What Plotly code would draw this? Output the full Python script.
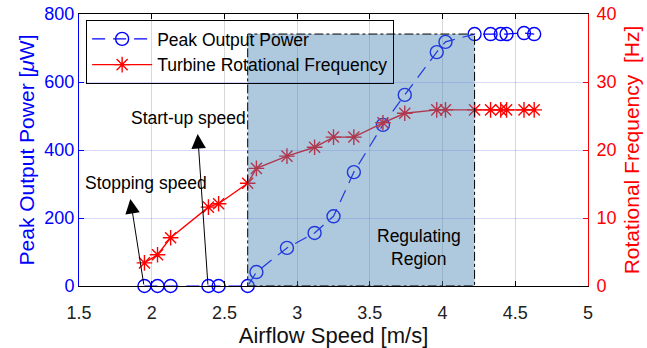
import plotly.graph_objects as go

# Data
airflow = [1.95, 2.04, 2.13, 2.39, 2.46, 2.66, 2.72, 2.93, 3.12, 3.25, 3.39,
           3.59, 3.74, 3.96, 4.02, 4.22, 4.33, 4.40, 4.44, 4.56, 4.63]
power_uW = [0, 0, 0, 0, 0, 0, 41, 112, 156, 205, 335,
            474, 562, 688, 718, 741, 741, 741, 741, 744, 741]
freq_Hz = [3.4, 4.6, 7.1, 11.6, 12.1, 15.1, 17.3, 19.1, 20.4, 21.9, 21.9,
           24.0, 25.4, 25.9, 25.9, 25.9, 25.9, 25.9, 25.9, 25.9, 25.9]
x_ticks = [1.5, 2, 2.5, 3, 3.5, 4, 4.5, 5]
region = dict(x0=2.66, x1=4.22, y0=0, y1=741)

FONT = "Liberation Sans, Arial, sans-serif"

fig = go.Figure()
fig.add_trace(go.Scatter(
    x=airflow, y=power_uW, name="Peak Output Power", mode="lines+markers",
    line=dict(color="#0000ff", width=1.2, dash="13px,8px"),
    marker=dict(symbol="circle-open", size=13, color="#0000ff", line=dict(width=1.4)),
    cliponaxis=False, yaxis="y"))
fig.add_trace(go.Scatter(
    x=airflow, y=freq_Hz, name="Turbine Rotational Frequency", mode="lines+markers",
    line=dict(color="#ff0000", width=1.4),
    marker=dict(symbol="asterisk-open", size=13, color="#ff0000", line=dict(width=1.4, color="#ff0000")),
    cliponaxis=False, yaxis="y2"))

fig.add_shape(type="rect", xref="x", yref="y", layer="above",
              x0=region["x0"], x1=region["x1"], y0=region["y0"], y1=region["y1"],
              fillcolor="rgba(70,130,180,0.44)",
              line=dict(color="black", width=1, dash="dashdot"))

# arrows
fig.add_annotation(x=2.316, y=447, ax=2.387, ay=0, xref="x", yref="y", axref="x", ayref="y",
                   text="", showarrow=True, arrowhead=2, arrowsize=2.9, arrowwidth=1, arrowcolor="black",
                   standoff=0, startstandoff=0)
fig.add_annotation(x=1.853, y=256, ax=1.947, ay=0, xref="x", yref="y", axref="x", ayref="y",
                   text="", showarrow=True, arrowhead=2, arrowsize=2.9, arrowwidth=1, arrowcolor="black",
                   standoff=0, startstandoff=0)
fig.add_annotation(x=2.256, y=494, xref="x", yref="y", text="Start-up speed", showarrow=False,
                   font=dict(family=FONT, size=17.5, color="black"))
fig.add_annotation(x=1.961, y=303, xref="x", yref="y", text="Stopping speed", showarrow=False,
                   font=dict(family=FONT, size=17.5, color="black"))
fig.add_annotation(x=3.835, y=112, xref="x", yref="y", text="Regulating<br>Region", showarrow=False,
                   font=dict(family=FONT, size=17.5, color="black"))

fig.update_layout(
    width=647, height=348,
    margin=dict(l=79, r=59, t=14, b=62),
    paper_bgcolor="white", plot_bgcolor="white",
    font=dict(family=FONT, size=17, color="black"),
    showlegend=True,
    legend=dict(x=0.014, y=0.978, xanchor="left", yanchor="top",
                bgcolor="rgba(255,255,255,0)", bordercolor="black", borderwidth=1,
                font=dict(family=FONT, size=17.5, color="black"),
                itemwidth=60, tracegroupgap=0),
    xaxis=dict(range=[1.5, 5], tickvals=x_ticks, ticktext=[f"{v:g}" for v in x_ticks],
               showgrid=True, gridcolor="#d8d8d8", gridwidth=1,
               showline=True, linecolor="black", linewidth=1, mirror="ticks",
               ticks="inside", ticklen=5, tickcolor="black", ticklabelstandoff=10,
               tickfont=dict(size=18, color="#222"), zeroline=False, automargin=False,
               title=dict(text="Airflow Speed [m/s]", font=dict(size=22, color="#111"), standoff=6)),
    yaxis=dict(range=[0, 800], dtick=200, showgrid=True, gridcolor="rgba(0,0,255,0.15)",
               showline=True, linecolor="#0000ff", linewidth=1, ticks="inside", ticklen=5,
               tickcolor="#0000ff", tickfont=dict(size=18, color="#0000ff"), zeroline=False,
               automargin=False,
               title=dict(text="Peak Output Power [<i>μ</i>W]", font=dict(size=21, color="#0000ff"), standoff=4)),
    yaxis2=dict(range=[0, 40], dtick=10, overlaying="y", side="right", showgrid=False,
                showline=True, linecolor="#ff0000", linewidth=1, ticks="inside", ticklen=5,
                tickcolor="#ff0000", tickfont=dict(size=18, color="#ff0000"), zeroline=False,
                automargin=False, ticklabelstandoff=4,
                title=dict(text="Rotational Frequency&nbsp; [Hz]", font=dict(size=21, color="#ff0000"), standoff=8)),
)

fig.write_html("out.html")
